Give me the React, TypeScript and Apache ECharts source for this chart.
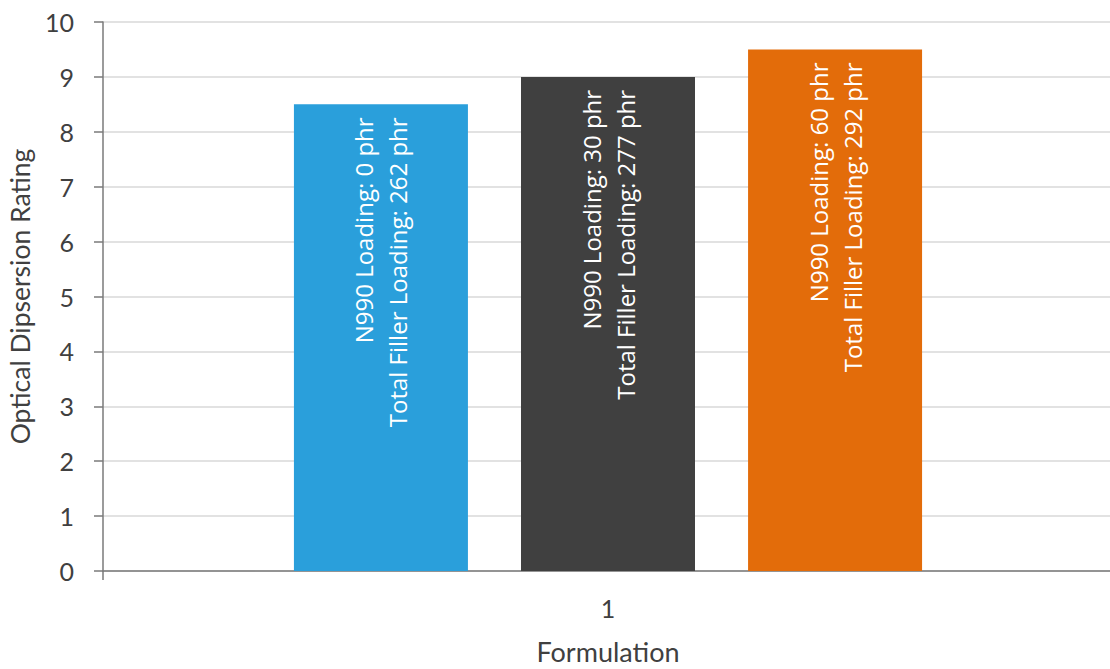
import React, { useEffect, useRef } from "react";
import * as echarts from "echarts";

// Single formulation, three compounds
const categories = ["1"];
const seriesNames = ["N990 0 phr", "N990 30 phr", "N990 60 phr"];
const ratings = [8.5, 9.0, 9.5];
const labelLines = [
  ["N990 Loading: 0 phr", "Total Filler Loading: 262 phr"],
  ["N990 Loading: 30 phr", "Total Filler Loading: 277 phr"],
  ["N990 Loading: 60 phr", "Total Filler Loading: 292 phr"],
];
const colors = ["#2A9FDB", "#404040", "#E36C0A"];
const yTicks = { min: 0, max: 10, interval: 1 };

export default function App() {
  const ref = useRef<HTMLDivElement>(null);

  useEffect(() => {
    if (!ref.current) return;
    const chart = echarts.init(ref.current, undefined, { renderer: "svg" });
    const axisFont = "Lato, 'Open Sans', sans-serif";
    const labelFont = "'Open Sans', 'Noto Sans', sans-serif";

    chart.setOption({
      animation: false,
      grid: { left: 103, top: 22, width: 1010, bottom: 98, outerBoundsMode: "none", containLabel: false },
      xAxis: {
        type: "category",
        data: categories,
        name: "Formulation",
        nameLocation: "middle",
        nameGap: 67,
        nameTextStyle: { fontFamily: axisFont, fontSize: 27, color: "#404040" },
        axisLine: { lineStyle: { color: "#7a7a7a", width: 1.5 } },
        axisTick: { show: true, length: 9, lineStyle: { color: "#7a7a7a", width: 1.5 } },
        axisLabel: { fontFamily: axisFont, fontSize: 25, color: "#404040", margin: 24 },
      },
      yAxis: {
        type: "value",
        min: yTicks.min,
        max: yTicks.max,
        interval: yTicks.interval,
        name: "Optical Dipsersion Rating",
        nameLocation: "middle",
        nameGap: 70,
        nameTextStyle: { fontFamily: axisFont, fontSize: 26.5, color: "#404040" },
        axisLine: { show: true, lineStyle: { color: "#7a7a7a", width: 1.5 } },
        axisTick: { show: true, length: 9, lineStyle: { color: "#7a7a7a", width: 1.5 } },
        axisLabel: { fontFamily: axisFont, fontSize: 25, color: "#404040", margin: 29 },
        splitLine: { lineStyle: { color: "#d9d9d9", width: 1.5 } },
      },
      series: ratings.map((v, i) => ({
        name: seriesNames[i],
        type: "bar",
        data: [v],
        barWidth: 174,
        barGap: "30.5%",
        itemStyle: { color: colors[i] },
        label: {
          show: true,
          position: "insideTop",
          distance: 13,
          rotate: 90,
          align: "right",
          verticalAlign: "middle",
          formatter: () => labelLines[i].join("\n"),
          fontFamily: labelFont,
          fontSize: 24,
          lineHeight: 34,
          color: "#ffffff",
        },
      })),
    });

    return () => chart.dispose();
  }, []);

  return (
    <div
      ref={ref}
      style={{ position: "fixed", left: 0, top: 0, width: 1110, height: 669, background: "#fff" }}
    />
  );
}
